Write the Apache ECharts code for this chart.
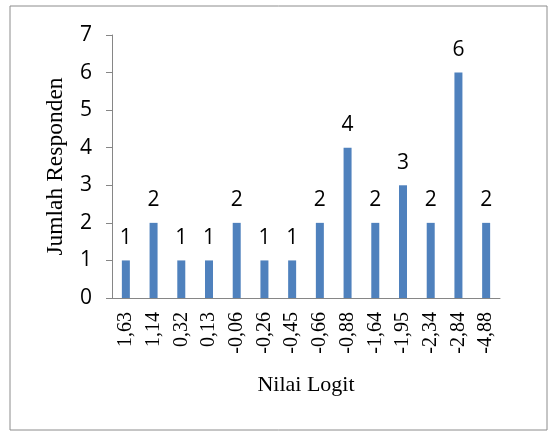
<!DOCTYPE html>
<html>
<head>
<meta charset="utf-8">
<script src="https://cdn.jsdelivr.net/npm/echarts@6/dist/echarts.min.js"></script>
<style>html,body{margin:0;padding:0;background:#fff;}#c{width:549px;height:432px;}</style>
</head>
<body>
<div id="c"></div>
<script>
const categories = ['1,63','1,14','0,32','0,13','-0,06','-0,26','-0,45','-0,66','-0,88','-1,64','-1,95','-2,34','-2,84','-4,88'];
const counts = [1,2,1,1,2,1,1,2,4,2,3,2,6,2];
const yTicks = [0,1,2,3,4,5,6,7];
const xTitle = 'Nilai Logit';
const yTitle = 'Jumlah Responden';

const chart = echarts.init(document.getElementById('c'), null, {renderer:'canvas'});
chart.setOption({
  animation:false,
  backgroundColor:'#ffffff',
  graphic:[{type:'rect', shape:{x:10,y:6,width:537,height:424}, style:{fill:'none', stroke:'#8c8c8c', lineWidth:1}, silent:true}],
  grid:{left:112, right:49, top:35, bottom:134},
  xAxis:{
    type:'category', data:categories,
    axisLine:{lineStyle:{color:'#868686', width:1}},
    axisTick:{show:false},
    axisLabel:{rotate:90, margin:14, color:'#000', fontFamily:'Liberation Serif', fontSize:20, interval:0},
    name:xTitle, nameLocation:'middle', nameGap:76,
    nameTextStyle:{fontFamily:'Liberation Serif', fontSize:22, color:'#000'}
  },
  yAxis:{
    type:'value', min:yTicks[0], max:yTicks[yTicks.length-1], interval:1,
    axisLine:{show:true, lineStyle:{color:'#868686', width:1}},
    axisTick:{show:true, length:6, lineStyle:{color:'#868686'}},
    splitLine:{show:false},
    axisLabel:{margin:20, color:'#000', fontFamily:'Open Sans', fontSize:21},
    name:yTitle, nameLocation:'middle', nameGap:44, nameRotate:90,
    nameTextStyle:{fontFamily:'Liberation Serif', fontSize:23.5, color:'#000'}
  },
  series:[{
    type:'bar', data:counts, barWidth:8,
    itemStyle:{color:'#4F81BD'},
    label:{show:true, position:'top', distance:12, color:'#000', fontFamily:'Open Sans', fontSize:21}
  }]
});
</script>
</body>
</html>
